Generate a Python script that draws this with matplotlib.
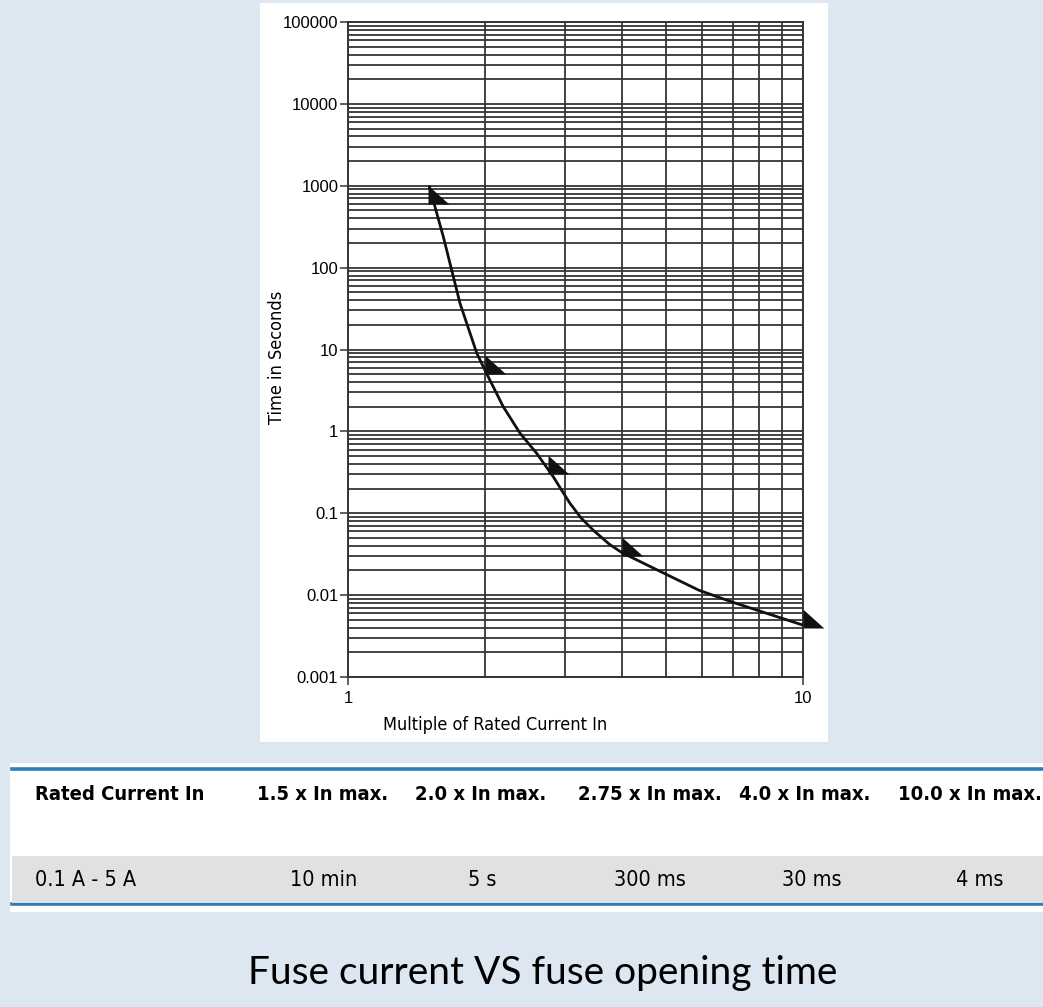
import numpy as np
import matplotlib
matplotlib.use('Agg')
import matplotlib.pyplot as plt
from matplotlib.patches import Rectangle
from matplotlib.ticker import FixedLocator, FixedFormatter, NullFormatter

plt.rcParams['font.family'] = ['Liberation Sans', 'DejaVu Sans']

# ---------- data ----------
rated_multiple = [1.5, 2.0, 2.75, 4.0, 10.0]          # x In
opening_time = [600, 5, 0.3, 0.03, 0.004]              # seconds (table values)

curve_x = [1.51, 1.62, 1.763, 1.919, 2.016, 2.194, 2.388, 2.598, 2.826, 2.95, 3.076, 3.25,
           3.46, 3.75, 4.0, 4.9, 5.9, 7.0, 10.0]
curve_y = [970, 238, 36.5, 9.0, 5.1, 2.0, 0.95, 0.54, 0.279, 0.19, 0.132, 0.088,
           0.062, 0.042, 0.033, 0.019, 0.0115, 0.0082, 0.0043]

y_decades = [0.001, 0.01, 0.1, 1, 10, 100, 1000, 10000, 100000]
y_labels = ['0.001', '0.01', '0.1', '1', '10', '100', '1000', '10000', '100000']
x_major = [1, 10]
x_labels = ['1', '10']

table_header = ['Rated Current In', '1.5 x In max.', '2.0 x In max.', '2.75 x In max.', '4.0 x In max.', '10.0 x In max.']
table_row = ['0.1 A - 5 A', '10 min', '5 s', '300 ms', '30 ms', '4 ms']

caption = 'Fuse current VS fuse opening time'

W, H = 1043, 1007
bg = '#dde7f1'
grid_col = '#353535'
narrow = dict(family='DejaVu Sans', fontstretch='condensed')

fig = plt.figure(figsize=(W / 100, H / 100), dpi=100, facecolor=bg)

def fx(px):
    return px / W

def fy(py):
    return 1 - py / H

# white panel behind the chart
fig.patches.append(Rectangle((fx(260), fy(742)), fx(828) - fx(260), fy(3) - fy(742),
                             transform=fig.transFigure, facecolor='white', edgecolor='none', zorder=-2))

# table panel
fig.patches.append(Rectangle((fx(10), fy(912)), 1 - fx(10), fy(763) - fy(912),
                             transform=fig.transFigure, facecolor='white', edgecolor='none', zorder=-2))
fig.patches.append(Rectangle((fx(12), fy(903)), 1 - fx(12), fy(856) - fy(903),
                             transform=fig.transFigure, facecolor='#e1e1e2', edgecolor='none', zorder=-1))
fig.lines.append(plt.Line2D([fx(12), 1], [fy(769), fy(769)], transform=fig.transFigure,
                            color='#2f7db8', lw=2.6, zorder=-1))
fig.lines.append(plt.Line2D([fx(12), 1], [fy(904), fy(904)], transform=fig.transFigure,
                            color='#2f7db8', lw=2.6, zorder=-1))

# ---------- chart ----------
ax = fig.add_axes([fx(348), fy(677), fx(803) - fx(348), fy(22) - fy(677)])
ax.set_facecolor('white')
ax.set_xscale('log')
ax.set_yscale('log')
ax.set_xlim(1, 10)
ax.set_ylim(0.001, 100000)

y_minor = [m * d for d in y_decades[:-1] for m in range(2, 10)]
ax.yaxis.set_major_locator(FixedLocator(y_decades))
ax.yaxis.set_major_formatter(FixedFormatter(y_labels))
ax.yaxis.set_minor_locator(FixedLocator(y_minor))
ax.yaxis.set_minor_formatter(NullFormatter())
ax.xaxis.set_major_locator(FixedLocator(x_major))
ax.xaxis.set_major_formatter(FixedFormatter(x_labels))
ax.xaxis.set_minor_locator(FixedLocator(list(range(2, 10))))
ax.xaxis.set_minor_formatter(NullFormatter())

ax.grid(which='both', color=grid_col, lw=1.3)
ax.tick_params(which='minor', length=0)
ax.tick_params(which='major', length=6, width=1.1, color=grid_col, direction='out',
               labelsize=12, pad=1)
ax.tick_params(axis='x', which='major', pad=4)
for sp in ax.spines.values():
    sp.set_color(grid_col)
    sp.set_linewidth(1.4)

ax.plot(curve_x, curve_y, color='#111111', lw=2.0, solid_joinstyle='round', zorder=3)
tri = [(0, 0), (0, 0.9), (1, 0)]
ax.plot(rated_multiple, opening_time, ls='none', marker=tri, markersize=30,
        color='#111111', markeredgewidth=0, zorder=4, clip_on=False)

fig.text(fx(495), fy(725), 'Multiple of Rated Current In', ha='center', va='center',
         fontsize=13, **narrow)
fig.text(fx(277), fy(357), 'Time in Seconds', ha='center', va='center', rotation=90,
         fontsize=13, **narrow)

# ---------- table ----------
col_x = [35, 323, 481, 650, 805, 970]
val_x = [35, 324, 482, 650, 812, 980]
for i, (h, v) in enumerate(zip(table_header, table_row)):
    ha = 'left' if i == 0 else 'center'
    fig.text(fx(col_x[i]), fy(795), h, ha=ha, va='center', fontsize=14.5, fontweight='bold',
             **narrow)
    fig.text(fx(val_x[i]), fy(880), v, ha=ha, va='center', fontsize=15.5, **narrow)

fig.text(fx(543), fy(973), caption, ha='center', va='center', fontsize=28,
         family=['Lato', 'DejaVu Sans'])

fig.savefig('out.png', dpi=100, facecolor=bg)
